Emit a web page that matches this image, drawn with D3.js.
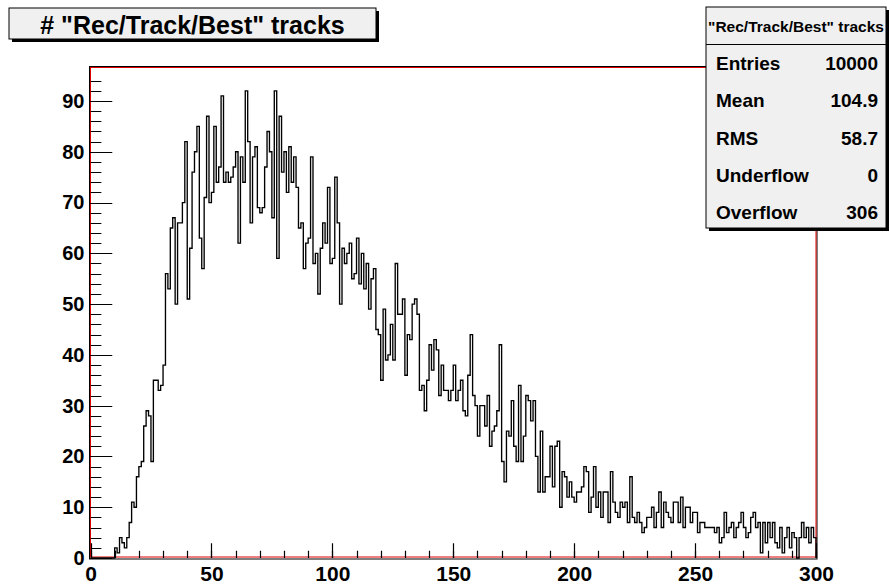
<!DOCTYPE html>
<html>
<head>
<meta charset="utf-8">
<script src="https://cdn.jsdelivr.net/npm/d3@7"></script>
<style>
  body { margin: 0; background: #fff; }
  text { font-family: "Liberation Sans", Arial, Helvetica, sans-serif; font-weight: bold; fill: #000; }
</style>
</head>
<body>
<svg id="chart" width="890" height="587"></svg>
<script>
    // ---- data ----
    const histTitle = '# "Rec/Track/Best" tracks'
    const statsTitle = '"Rec/Track/Best" tracks'
    const binRange = [0, 300]
    // one entry per unit bin, 0..299
    const counts = [
        0, 0, 0, 0, 0, 0, 0, 0, 0, 0,
        2, 1, 4, 3, 2, 4, 7, 11, 10, 16, 18, 19, 26, 29, 28, 19, 35, 35, 33, 34,
        38, 56, 53, 65, 67, 50, 66, 66, 70, 82, 51, 61, 76, 80, 85, 63, 57, 71, 87, 70,
        72, 85, 74, 77, 91, 74, 76, 74, 75, 77, 80, 62, 79, 74, 92, 82, 66, 79, 81, 69,
        68, 69, 77, 84, 80, 67, 92, 59, 87, 76, 80, 72, 81, 74, 79, 73, 65, 66, 57, 62,
        63, 79, 58, 60, 52, 61, 66, 62, 73,
        58, 59, 75, 66, 50, 61, 58, 60, 62, 55, 56, 63, 54, 60, 53, 58, 49, 55, 57, 45,
        44, 35, 49, 39, 40, 46, 39, 58, 48, 48, 51, 36, 44, 43, 50, 51, 48, 33, 34, 29,
        35, 42, 37, 43, 41, 32, 38, 33, 33,
        31, 33, 38, 31, 33, 35, 29, 28, 36, 44, 32, 30, 24, 30, 30, 26, 32, 22, 25, 26,
        29, 42, 19, 15, 25, 24, 31, 22, 19, 34, 19, 24, 32, 31, 27, 31, 20, 13, 25, 13,
        16, 16, 22, 14, 22, 23, 10, 17, 16, 12, 15,
        12, 11, 13, 13, 14, 18, 17, 9, 12, 18, 10, 13, 8, 13, 13, 7, 17, 11, 9, 8,
        11, 10, 11, 7, 16, 8, 7, 9, 7, 5, 6, 8, 8, 10, 6, 9, 13, 6, 11, 9,
        8, 7, 11, 11, 7, 12, 6, 10,
        10, 7, 9, 9, 5, 7, 7, 6, 6, 6, 6, 5, 6, 3, 4, 9, 5, 6, 7, 4,
        6, 7, 9, 6, 4, 5, 8, 9, 6, 7, 1, 7, 3, 7, 4, 7, 3, 2, 6, 1,
        4, 6, 2, 5, 4, 0, 4, 7, 4, 6, 3, 6, 4
    ]
    const xMajorTicks = [0, 50, 100, 150, 200, 250, 300]
    const xMinorTicks = d3.range(0, 301, 10)
    const yMajorTicks = [0, 10, 20, 30, 40, 50, 60, 70, 80, 90]
    const yMinorTicks = d3.range(0, 96, 2)
    const statNames = ["Entries", "Mean", "RMS", "Underflow", "Overflow"]
    const statValues = ["10000", "104.9", "58.7", "0", "306"]

    // ---- layout ----
    const frame = { left: 90.5, right: 816, top: 67.5, bottom: 558 }
    const yMax = d3.max(counts) * 1.05

    const svg = d3.select("#chart")

    const x = d3.scaleLinear().domain(binRange).range([frame.left, frame.right])
    const y = d3.scaleLinear().domain([0, yMax]).range([frame.bottom, frame.top])

    const xLen = frame.right - frame.left
    const yLen = frame.bottom - frame.top

    /********************* frame ************************/
    svg.append("rect")
        .attr("x", frame.left - 1).attr("y", frame.top - 1)
        .attr("width", frame.right - frame.left + 2).attr("height", frame.bottom - frame.top + 2)
        .attr("fill", "none").attr("stroke", "#000").attr("stroke-width", 1)
    svg.append("rect")
        .attr("x", frame.left).attr("y", frame.top)
        .attr("width", frame.right - frame.left).attr("height", frame.bottom - frame.top - 1)
        .attr("fill", "none").attr("stroke", "#e00000").attr("stroke-width", 1)

    /********************* ticks (inside the frame, ROOT style) ************************/
    function tickPath(values, pos, len, vertical) {
        const p = d3.path()
        values.forEach(v => {
            const c = Math.round(pos(v)) + 0.5
            if (vertical) { p.moveTo(c, frame.bottom); p.lineTo(c, frame.bottom - len) }
            else { p.moveTo(frame.left, c); p.lineTo(frame.left + len, c) }
        })
        svg.append("path").attr("d", p.toString())
            .attr("fill", "none").attr("stroke", "#000").attr("stroke-width", 1.2)
    }
    tickPath(xMinorTicks, x, 0.015 * yLen, true)
    tickPath(xMajorTicks, x, 0.03 * yLen, true)
    tickPath(yMinorTicks, y, 0.015 * xLen, false)
    tickPath(yMajorTicks, y, 0.03 * xLen, false)

    /********************* tick labels ************************/
    const gx = svg.append("g").attr("transform", `translate(0,${frame.bottom})`)
        .call(d3.axisBottom(x).tickValues(xMajorTicks).tickSize(0).tickPadding(8))
    gx.select(".domain").remove()
    gx.selectAll(".tick text").attr("font-size", 21).attr("fill", "#000")

    const gy = svg.append("g").attr("transform", `translate(${frame.left},0)`)
        .call(d3.axisLeft(y).tickValues(yMajorTicks).tickSize(0).tickPadding(6))
    gy.select(".domain").remove()
    gy.selectAll(".tick text").attr("font-size", 20).attr("fill", "#000")

    /********************* histogram ************************/
    const steps = [[binRange[0], 0]]
        .concat(counts.map((c, i) => [i, c]))
        .concat([[binRange[1], counts[counts.length - 1]], [binRange[1], 0]])

    svg.append("path")
        .attr("d", d3.line().x(d => x(d[0])).y(d => y(d[1])).curve(d3.curveStepAfter)(steps))
        .attr("fill", "none")
        .attr("stroke", "#000")
        .attr("stroke-width", 1.35)

    /********************* title box ************************/
    const tb = { x: 9, y: 8, w: 367, h: 31 }
    svg.append("rect").attr("x", tb.x + 3).attr("y", tb.y + 3).attr("width", tb.w).attr("height", tb.h).attr("fill", "#000")
    svg.append("rect").attr("x", tb.x).attr("y", tb.y).attr("width", tb.w).attr("height", tb.h)
        .attr("fill", "#f0f0f0").attr("stroke", "#000").attr("stroke-width", 1)
    svg.append("text")
        .attr("x", tb.x + tb.w / 2).attr("y", 33.5)
        .attr("text-anchor", "middle").attr("font-size", 25)
        .text(histTitle)

    /********************* stats box ************************/
    const sb = { x: 706, y: 7, w: 180, h: 221, head: 44 }
    svg.append("rect").attr("x", sb.x + 3).attr("y", sb.y + 3).attr("width", sb.w).attr("height", sb.h).attr("fill", "#000")
    svg.append("rect").attr("x", sb.x).attr("y", sb.y).attr("width", sb.w).attr("height", sb.h)
        .attr("fill", "#f0f0f0").attr("stroke", "#000").attr("stroke-width", 1)
    svg.append("path")
        .attr("d", `M${sb.x},${sb.head + 0.5}H${sb.x + sb.w}`)
        .attr("fill", "none").attr("stroke", "#000").attr("stroke-width", 1)
    svg.append("text")
        .attr("x", sb.x + sb.w / 2).attr("y", 32)
        .attr("text-anchor", "middle").attr("font-size", 15.5)
        .text(statsTitle)

    const rows = d3.scaleLinear().domain([0, statNames.length - 1]).range([70, 219.2])
    const statRows = svg.append("g").selectAll("g")
        .data(statNames.map((n, i) => ({ name: n, value: statValues[i], i: i })))
        .enter().append("g")
    statRows.append("text")
        .attr("x", 716).attr("y", d => rows(d.i))
        .attr("font-size", 19)
        .text(d => d.name)
    statRows.append("text")
        .attr("x", 878).attr("y", d => rows(d.i))
        .attr("text-anchor", "end").attr("font-size", 19)
        .text(d => d.value)
</script>
</body>
</html>
